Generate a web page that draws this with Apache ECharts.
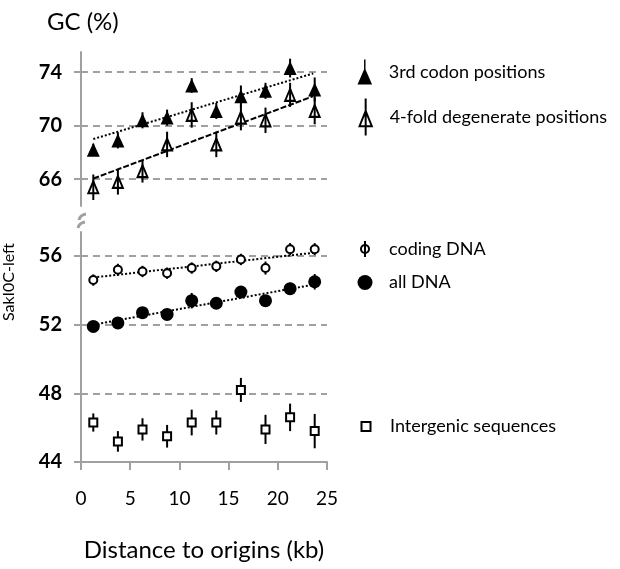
<!DOCTYPE html>
<html>
<head>
<meta charset="utf-8">
<title>GC content vs distance to origins</title>
<script src="https://cdn.jsdelivr.net/npm/echarts@6/dist/echarts.min.js"></script>
<style>
  html, body { margin: 0; padding: 0; background: #fff; }
  #chart { width: 620px; height: 569px; }
</style>
</head>
<body>
<div id="chart"></div>
<script>
// distance to origins (kb), same for every series
const dist = [1.25, 3.75, 6.25, 8.75, 11.25, 13.75, 16.25, 18.75, 21.25, 23.75]

// upper panel
const gc3 = [68.2, 68.9, 70.4, 70.6, 73.0, 71.1, 72.2, 72.6, 74.3, 72.7]
const gc3Err = [0.45, 0.6, 0.6, 0.6, 0.55, 0.6, 0.8, 0.6, 0.7, 0.9]
const gc4 = [65.4, 65.8, 66.6, 68.6, 70.8, 68.6, 70.6, 70.4, 72.3, 71.1]
const gc4Err = [0.95, 0.95, 0.85, 0.95, 0.95, 0.95, 0.95, 0.95, 0.9, 1.0]

// lower panel
const codingGC = [54.6, 55.2, 55.1, 55.0, 55.3, 55.4, 55.8, 55.3, 56.4, 56.4]
const codingErr = [0.33, 0.35, 0.33, 0.33, 0.33, 0.33, 0.33, 0.38, 0.35, 0.35]
const allGC = [51.9, 52.1, 52.7, 52.6, 53.4, 53.25, 53.9, 53.4, 54.1, 54.5]
const allErr = [0.3, 0.3, 0.3, 0.3, 0.45, 0.3, 0.35, 0.3, 0.35, 0.45]
const interGC = [46.3, 45.2, 45.9, 45.5, 46.3, 46.3, 48.2, 45.9, 46.6, 45.8]
const interErr = [0.53, 0.6, 0.65, 0.66, 0.75, 0.7, 0.7, 0.85, 0.8, 1.0]

// regression lines (end points)
const trendX = [1.25, 23.6]
const trendXLow = [1.25, 23.8]
const gc3Trend = [69.0, 73.9]
const gc4Trend = [66.05, 72.2]
const codingTrend = [54.75, 56.2]
const allTrend = [52.0, 54.35]

// ticks
const upperTicks = [66, 70, 74]
const lowerTicks = [44, 48, 52, 56]
const lowerGrid = [48, 52, 56]

const FONT = 'Lato'
const GREY = '#a0a0a0'

const chart = echarts.init(document.getElementById('chart'))

function pairs(xs, ys) {
  return xs.map((x, i) => [x, ys[i]])
}

function errorSeries(vals, errs, idx, z) {
  return {
    type: 'custom',
    name: 'err' + idx + z,
    xAxisIndex: idx,
    yAxisIndex: idx,
    z: z,
    silent: true,
    data: dist.map((d, i) => [d, vals[i] - errs[i], vals[i] + errs[i]]),
    encode: { x: 0, y: [1, 2] },
    renderItem: (params, api) => {
      const lo = api.coord([api.value(0), api.value(1)])
      const hi = api.coord([api.value(0), api.value(2)])
      return {
        type: 'line',
        shape: { x1: lo[0], y1: lo[1], x2: hi[0], y2: hi[1] },
        style: { stroke: '#000', lineWidth: 2 }
      }
    }
  }
}

function trendSeries(xs, ys, idx, type) {
  return {
    type: 'line',
    xAxisIndex: idx,
    yAxisIndex: idx,
    z: 1,
    silent: true,
    symbol: 'none',
    data: pairs(xs, ys),
    lineStyle: { color: '#000', width: 2, type: type }
  }
}

function gridLines(ticks, idx) {
  return {
    type: 'line',
    xAxisIndex: idx,
    yAxisIndex: idx,
    data: [],
    silent: true,
    markLine: {
      z: 0,
      silent: true,
      symbol: 'none',
      label: { show: false },
      lineStyle: { color: GREY, type: [7, 5], width: 2 },
      data: ticks.map(v => ({ yAxis: v }))
    }
  }
}

function mkLegend(name, icon, cy, w, h) {
  const left = 365 - w / 2
  return {
    data: [{ name: name, icon: icon }],
    left: left,
    top: cy - h / 2,
    padding: 0,
    itemWidth: w,
    itemHeight: h,
    selectedMode: false,
    textStyle: {
      fontFamily: FONT,
      fontSize: 18,
      color: '#000',
      padding: [0, 0, 0, 389 - (left + w + 5)]
    }
  }
}

const yLabel = {
  fontFamily: FONT,
  fontSize: 20,
  fontWeight: 'bold',
  color: '#000',
  margin: 19
}

const option = {
  animation: false,
  title: {
    text: 'GC (%)',
    left: 42,
    top: 5,
    textStyle: { fontFamily: FONT, fontSize: 24, fontWeight: 'normal', color: '#000' }
  },
  graphic: [
    {
      type: 'text',
      x: 9,
      y: 282,
      rotation: Math.PI / 2,
      style: {
        text: 'SakI0C-left',
        font: '16px Lato',
        fill: '#000',
        align: 'center',
        verticalAlign: 'middle'
      }
    },
    {
      type: 'bezierCurve',
      shape: { x1: 79, y1: 220, x2: 86, y2: 214, cpx1: 80, cpy1: 215 },
      style: { stroke: GREY, lineWidth: 3, fill: null }
    },
    {
      type: 'bezierCurve',
      shape: { x1: 78, y1: 228, x2: 85, y2: 222, cpx1: 79, cpy1: 223 },
      style: { stroke: GREY, lineWidth: 3, fill: null }
    }
  ],
  legend: [
    mkLegend('3rd codon positions', 'path://M6.3,0H7.7V24H6.3Z M0,24L7,8L14,24Z', 72, 15, 25),
    mkLegend('4-fold degenerate positions', 'path://M6,0V36 M0,27L6,12L12,27Z', 116, 13, 37),
    mkLegend('coding DNA', 'path://M5,0V16 M9,8A4,4,0,1,1,1,8A4,4,0,1,1,9,8Z', 248, 10, 16),
    mkLegend('all DNA', 'circle', 281, 15, 15),
    mkLegend('Intergenic sequences', 'rect', 422, 9, 9)
  ],
  grid: [
    { left: 81, top: 52, width: 246, height: 154 },
    { left: 81, top: 232, width: 246, height: 230 }
  ],
  xAxis: [
    {
      type: 'value', gridIndex: 0, min: 0, max: 25, interval: 5,
      show: false
    },
    {
      type: 'value', gridIndex: 1, min: 0, max: 25, interval: 5,
      axisLine: { show: true, onZero: false, lineStyle: { color: GREY, width: 2 } },
      axisTick: { show: true, inside: false, length: 8, lineStyle: { color: GREY, width: 2 } },
      splitLine: { show: false },
      axisLabel: { fontFamily: FONT, fontSize: 19, color: '#000', margin: 27 },
      name: 'Distance to origins (kb)',
      nameLocation: 'middle',
      nameGap: 76,
      nameTextStyle: { fontFamily: FONT, fontSize: 24, color: '#000' }
    }
  ],
  yAxis: [
    {
      type: 'value', gridIndex: 0, min: 64, max: 75.5, interval: 2,
      axisLine: { show: true, onZero: false, lineStyle: { color: GREY, width: 2 } },
      axisTick: { show: true, length: 7, customValues: upperTicks, lineStyle: { color: GREY, width: 2 } },
      axisLabel: Object.assign({ customValues: upperTicks }, yLabel),
      splitLine: { show: false }
    },
    {
      type: 'value', gridIndex: 1, min: 44, max: 57.4, interval: 4,
      axisLine: { show: true, onZero: false, lineStyle: { color: GREY, width: 2 } },
      axisTick: { show: true, length: 7, customValues: lowerTicks, lineStyle: { color: GREY, width: 2 } },
      axisLabel: Object.assign({ customValues: lowerTicks }, yLabel),
      splitLine: { show: false }
    }
  ],
  series: [
    gridLines(upperTicks, 0),
    gridLines(lowerGrid, 1),
    trendSeries(trendX, gc3Trend, 0, 'dotted'),
    trendSeries(trendX, gc4Trend, 0, [6, 2]),
    trendSeries(trendXLow, codingTrend, 1, 'dotted'),
    trendSeries(trendXLow, allTrend, 1, 'dotted'),
    {
      type: 'scatter', name: '3rd codon positions', xAxisIndex: 0, yAxisIndex: 0, z: 3,
      symbol: 'triangle', symbolSize: [13, 14],
      itemStyle: { color: '#000', borderColor: '#000', borderWidth: 0, opacity: 1 },
      data: pairs(dist, gc3)
    },
    errorSeries(gc3, gc3Err, 0, 4),
    {
      type: 'scatter', name: '4-fold degenerate positions', xAxisIndex: 0, yAxisIndex: 0, z: 3,
      symbol: 'triangle', symbolSize: [10, 12],
      itemStyle: { color: '#fff', borderColor: '#000', borderWidth: 2, opacity: 1 },
      data: pairs(dist, gc4)
    },
    errorSeries(gc4, gc4Err, 0, 4),
    errorSeries(codingGC, codingErr, 1, 2),
    {
      type: 'scatter', name: 'coding DNA', xAxisIndex: 1, yAxisIndex: 1, z: 3,
      symbol: 'circle', symbolSize: 8,
      itemStyle: { color: '#fff', borderColor: '#000', borderWidth: 2, opacity: 1 },
      data: pairs(dist, codingGC)
    },
    errorSeries(allGC, allErr, 1, 2),
    {
      type: 'scatter', name: 'all DNA', xAxisIndex: 1, yAxisIndex: 1, z: 3,
      symbol: 'circle', symbolSize: 13,
      itemStyle: { color: '#000', opacity: 1 },
      data: pairs(dist, allGC)
    },
    errorSeries(interGC, interErr, 1, 2),
    {
      type: 'scatter', name: 'Intergenic sequences', xAxisIndex: 1, yAxisIndex: 1, z: 3,
      symbol: 'rect', symbolSize: 8,
      itemStyle: { color: '#fff', borderColor: '#000', borderWidth: 2, opacity: 1 },
      data: pairs(dist, interGC)
    }
  ]
}

chart.setOption(option)
</script>
</body>
</html>
